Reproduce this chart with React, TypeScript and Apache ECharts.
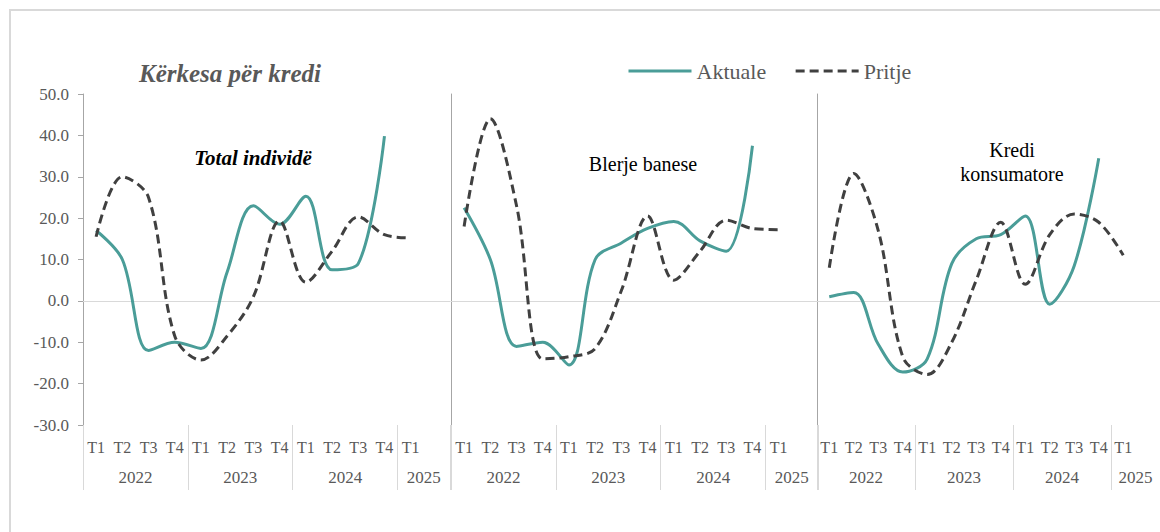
import React, { useEffect, useRef } from 'react';
import * as echarts from 'echarts';

// ---- data ----
const quarters = ['T1', 'T2', 'T3', 'T4', 'T1', 'T2', 'T3', 'T4', 'T1', 'T2', 'T3', 'T4', 'T1', ''];
const years = ['2022', '2023', '2024', '2025'];
const yearSpans = [4, 4, 4, 2];
const seriesNames = ['Aktuale', 'Pritje'];
const panelTitles = ['Total individë', 'Blerje banese', 'Kredi\nkonsumatore'];
const chartTitle = 'Kërkesa për kredi';

const totalAktuale = [17, 10, -12, -10, -11.5, 7, 23, 18.5, 25.3, 7.5, 9, 39.8];
const totalPritje = [15.5, 30, 25, -8.5, -14.3, -8.5, 1, 19.3, 4.5, 12, 20.3, 16, 15.2];
const baneseAktuale = [22.5, 10, -11, -10, -15.5, 10, 14, 17.5, 19.2, 14.5, 12, 37.5];
const banesePritje = [18, 44, 23, -14, -13.5, -11.5, 2.5, 20.5, 5, 12, 19.5, 17.5, 17.2];
const konsAktuale = [1, 2, -10.5, -17.2, -14, 9, 15, 16, 20.5, -0.8, 8.5, 34.5];
const konsPritje = [8, 30.8, 17, -13.5, -17.8, -10, 5, 19, 4, 16, 21, 19, 11];

const panels = [
  { aktuale: totalAktuale, pritje: totalPritje },
  { aktuale: baneseAktuale, pritje: banesePritje },
  { aktuale: konsAktuale, pritje: konsPritje },
];

const FONT = "'Liberation Serif', 'Times New Roman', serif";
const TEAL = '#4a9d98';
const DARK = '#404040';
const GRAY_TXT = '#595959';

export default function App() {
  const ref = useRef<HTMLDivElement>(null);

  useEffect(() => {
    if (!ref.current) return;
    const chart = echarts.init(ref.current, undefined, { renderer: 'svg' });

    // half-step year axis
    const yearData: string[] = new Array(quarters.length * 2 + 1).fill('');
    const tickIdx = new Set<number>();
    let start = 0;
    yearSpans.forEach((s, i) => {
      yearData[2 * start + s] = years[i];
      tickIdx.add(2 * start);
      start += s;
    });
    tickIdx.add(2 * quarters.length);

    const gridLefts = [83, 451, 817];
    const gridWidth = 367;

    const grids = gridLefts.map((l) => ({ left: l, width: gridWidth, top: 94, height: 331 }));

    const xAxes: any[] = [];
    const yAxes: any[] = [];
    const series: any[] = [];

    panels.forEach((p, i) => {
      xAxes.push({
        type: 'category',
        gridIndex: i,
        position: 'bottom',
        data: quarters,
        boundaryGap: true,
        axisLine: { show: false, onZero: false },
        axisTick: { show: false },
        axisLabel: { color: GRAY_TXT, fontFamily: FONT, fontSize: 16, margin: 14, interval: 0 },
      });
      xAxes.push({
        type: 'category',
        gridIndex: i,
        position: 'bottom',
        data: yearData,
        boundaryGap: false,
        axisLine: { show: false, onZero: false },
        axisTick: {
          show: true,
          length: 65,
          inside: false,
          interval: (idx: number) => tickIdx.has(idx),
          lineStyle: { color: '#d9d9d9', width: 1 },
        },
        axisLabel: {
          color: GRAY_TXT,
          fontFamily: FONT,
          fontSize: 17,
          margin: 44,
          interval: (_idx: number, v: string) => v !== '',
        },
      });
      xAxes.push({
        type: 'category',
        gridIndex: i,
        position: 'top',
        data: quarters,
        boundaryGap: true,
        axisLine: { show: true, onZero: true, lineStyle: { color: '#d9d9d9', width: 1 } },
        axisTick: { show: false },
        axisLabel: { show: false },
      });
      yAxes.push({
        type: 'value',
        gridIndex: i,
        min: -30,
        max: 50,
        interval: 10,
        splitLine: { show: false },
        axisLine: { show: true, lineStyle: { color: '#a6a6a6', width: 1 } },
        axisTick: { show: i === 0, length: 5, lineStyle: { color: '#a6a6a6' } },
        axisLabel: {
          show: i === 0,
          color: GRAY_TXT,
          fontFamily: FONT,
          fontSize: 17,
          margin: 14,
          formatter: (v: number) => v.toFixed(1),
        },
      });
      series.push({
        name: seriesNames[0],
        type: 'line',
        xAxisIndex: i * 3,
        yAxisIndex: i,
        data: p.aktuale,
        smooth: 0.35,
        symbol: 'none',
        lineStyle: { color: TEAL, width: 3 },
        itemStyle: { color: TEAL },
        z: 3,
      });
      series.push({
        name: seriesNames[1],
        type: 'line',
        xAxisIndex: i * 3,
        yAxisIndex: i,
        data: p.pritje,
        smooth: 0.35,
        symbol: 'none',
        lineStyle: { color: DARK, width: 3, type: [9, 5] },
        itemStyle: { color: DARK },
        z: 4,
      });
    });

    const panelLabelPos = [
      { x: 253, y: 158, bold: true, size: 21 },
      { x: 643, y: 164, bold: false, size: 20 },
      { x: 1012, y: 162, bold: false, size: 20 },
    ];

    chart.setOption({
      animation: false,
      backgroundColor: '#ffffff',
      title: {
        text: chartTitle,
        left: 134,
        top: 56,
        textStyle: { fontFamily: FONT, fontSize: 25, fontStyle: 'italic', fontWeight: 'bold', color: GRAY_TXT },
      },
      legend: {
        data: seriesNames,
        left: 622,
        top: 55,
        itemWidth: 63,
        itemHeight: 2,
        itemGap: 28,
        lineStyle: { width: 3 },
        textStyle: { fontFamily: FONT, fontSize: 22, color: GRAY_TXT },
      },
      grid: grids,
      xAxis: xAxes,
      yAxis: yAxes,
      series,
      graphic: [
        {
          type: 'rect',
          shape: { x: 10, y: 10, width: 1200, height: 600 },
          style: { fill: 'none', stroke: '#d9d9d9', lineWidth: 2 },
          silent: true,
          z: -10,
        },
        ...panelTitles.map((t, i) => ({
          type: 'text',
          x: panelLabelPos[i].x,
          y: panelLabelPos[i].y,
          style: {
            text: t,
            fill: '#000000',
            font: `${panelLabelPos[i].bold ? 'italic bold ' : ''}${panelLabelPos[i].size}px ${FONT}`,
            textAlign: 'center',
            textVerticalAlign: 'middle',
            lineHeight: 24,
          },
        })),
      ],
    });

    return () => chart.dispose();
  }, []);

  return (
    <div
      ref={ref}
      style={{ position: 'fixed', left: 0, top: 0, width: 1160, height: 532, background: '#fff' }}
    />
  );
}
